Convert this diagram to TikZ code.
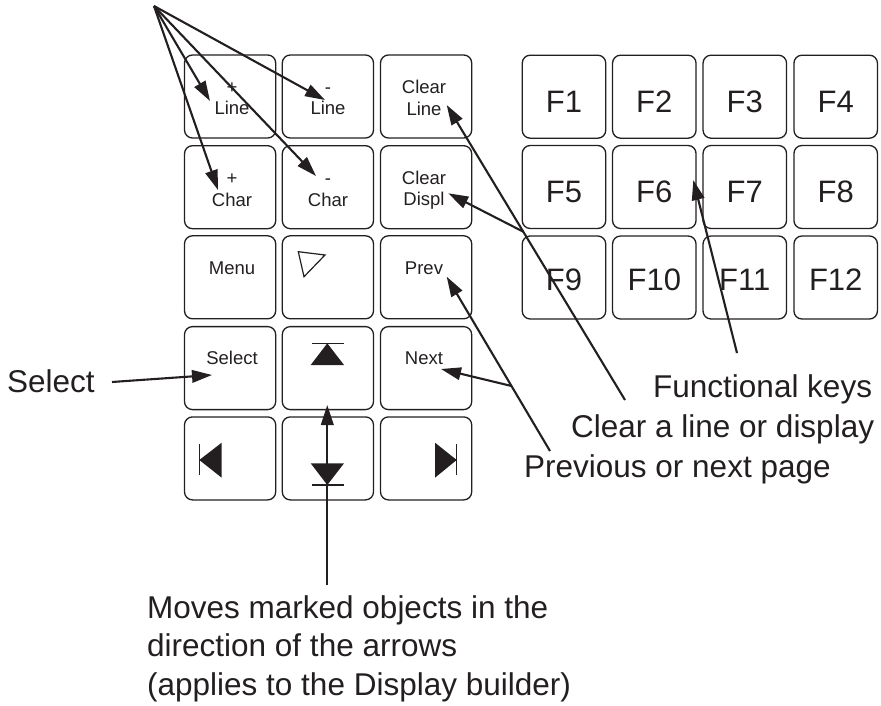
\documentclass[tikz,border=0pt]{standalone}
\usepackage{fontspec}
\setmainfont{Liberation Sans}
\usetikzlibrary{arrows.meta,calc}
\definecolor{ink}{RGB}{35,31,32}

\begin{document}
\begin{tikzpicture}[x=1pt,y=-1pt,
  key/.style={draw=ink, line width=1.3pt, rounded corners=8pt,
              minimum width=91.2pt, minimum height=83pt, inner sep=0pt},
  fkey/.style={key, minimum width=83.5pt},
  keytext/.style={anchor=base, inner sep=0pt, text=ink,
                  font=\fontsize{18.5}{21.5}\selectfont},
  ftext/.style={anchor=base, inner sep=0pt, text=ink,
                font=\fontsize{31}{36}\selectfont},
  note/.style={anchor=base west, inner sep=0pt, text=ink,
               font=\fontsize{31.5}{38.5}\selectfont},
  ptr/.style={draw=ink, line width=2.1pt,
              -{Triangle[length=20pt,width=12.5pt]}},
  glyph/.style={fill=ink, draw=none},
  bar/.style={draw=ink, line width=1.3pt}]

\useasboundingbox (0,0) rectangle (881,706);

% ---------- navigation / editing keypad ----------
\foreach \r/\y in {1/96.5, 2/187.2, 3/277.3, 4/368.1, 5/458.4}
  \foreach \c/\x in {1/230.1, 2/327.9, 3/426.1}
    \node[key] (k\r\c) at (\x,\y) {};

% key captions
\node[keytext] (pl1) at (232,93.5)  {+};
\node[keytext] (pl2) at (232,115)   {Line};
\node[keytext] (ml1) at (328,93.5)  {-};
\node[keytext] (ml2) at (328,115)   {Line};
\node[keytext] (cl1) at (424,94)    {Clear};
\node[keytext] (cl2) at (424,115.5) {Line};
\node[keytext] (pc1) at (232,184)   {+};
\node[keytext] (pc2) at (232,206)   {Char};
\node[keytext] (mc1) at (328,184)   {-};
\node[keytext] (mc2) at (328,206)   {Char};
\node[keytext] (cd1) at (424,184)   {Clear};
\node[keytext] (cd2) at (424,205.5) {Displ};
\node[keytext] (menu) at (232,274)  {Menu};
\node[keytext] (prev) at (424,274)  {Prev};
\node[keytext] (sel)  at (232,364)  {Select};
\node[keytext] (next) at (424,364)  {Next};

% key symbols
\draw[bar, line width=1.2pt, fill=white]
  (298.3,251.7) -- (325,255) -- (304,276.7) -- cycle;
\fill[glyph] (327.3,343.3) -- (344,365) -- (310.7,365) -- cycle;
\draw[bar] (311.7,343.3) -- (344,343.3);
\fill[glyph] (310.7,463.3) -- (344,463.3) -- (327.3,485) -- cycle;
\draw[bar] (312.3,485) -- (344,485);
\fill[glyph] (221.7,442.7) -- (221.7,477.7) -- (199.3,460) -- cycle;
\draw[bar] (199.3,444) -- (199.3,475);
\fill[glyph] (435,442.7) -- (435,477.7) -- (456.7,460) -- cycle;
\draw[bar] (456.7,444) -- (456.7,475);

% ---------- function keys ----------
\foreach \r/\y/\b in {0/96.7/113, 1/187/202.3, 2/277.5/290}
  \foreach \c/\x in {1/564, 2/654.3, 3/744.8, 4/835.7} {
    \pgfmathtruncatemacro{\n}{4*\r+\c}
    \node[fkey] (f\n) at (\x,\y) {};
    \node[ftext] (ft\n) at (\x,\b) {F\n};
  }

% ---------- annotations ----------
\node[note] (selnote)  at (7,392)   {Select};
\node[note] (funcnote) at (653,397) {Functional keys};
\node[note] (clrnote)  at (571,437) {Clear a line or display};
\node[note] (pgnote)   at (524,477) {Previous or next page};
\node[note] (mv1) at (147,618)   {Moves marked objects in the};
\node[note] (mv2) at (147,656.5) {direction of the arrows};
\node[note] (mv3) at (147,695)   {(applies to the Display builder)};

% ---------- leader lines ----------
\coordinate (apex) at (154,6);
\coordinate (tPL) at (210,101);
\coordinate (tML) at (325,100);
\coordinate (tPC) at (218,190);
\coordinate (tMC) at (316,176);
\draw[ptr] (apex) -- (tPL);
\draw[ptr] (apex) -- (tML);
\draw[ptr] (apex) -- (tPC);
\draw[ptr] (apex) -- (tMC);

\coordinate (clrEnd) at (625,400);
\coordinate (tCL) at (446.7,105);
\coordinate (tCD) at (448.3,193.3);
\draw[ptr] (clrEnd) -- (tCL);
\draw[ptr] ($(clrEnd)!0.5705!(tCL)$) -- (tCD);

\coordinate (pgEnd) at (550,451);
\coordinate (tPV) at (446.7,276.7);
\coordinate (tNX) at (441,369);
\draw[ptr] (pgEnd) -- (tPV);
\draw[ptr] ($(pgEnd)!0.373!(tPV)$) -- (tNX);

\coordinate (fnEnd) at (737,353);
\coordinate (tFN) at (693.3,180);
\draw[ptr] (fnEnd) -- (tFN);

\coordinate (mvEnd) at (327.3,585);
\coordinate (tMV) at (327.3,405);
\draw[ptr] (mvEnd) -- (tMV);

\coordinate (selEnd) at (112,382);
\coordinate (tSL) at (212,375);
\draw[ptr] (selEnd) -- (tSL);

\end{tikzpicture}
\end{document}
